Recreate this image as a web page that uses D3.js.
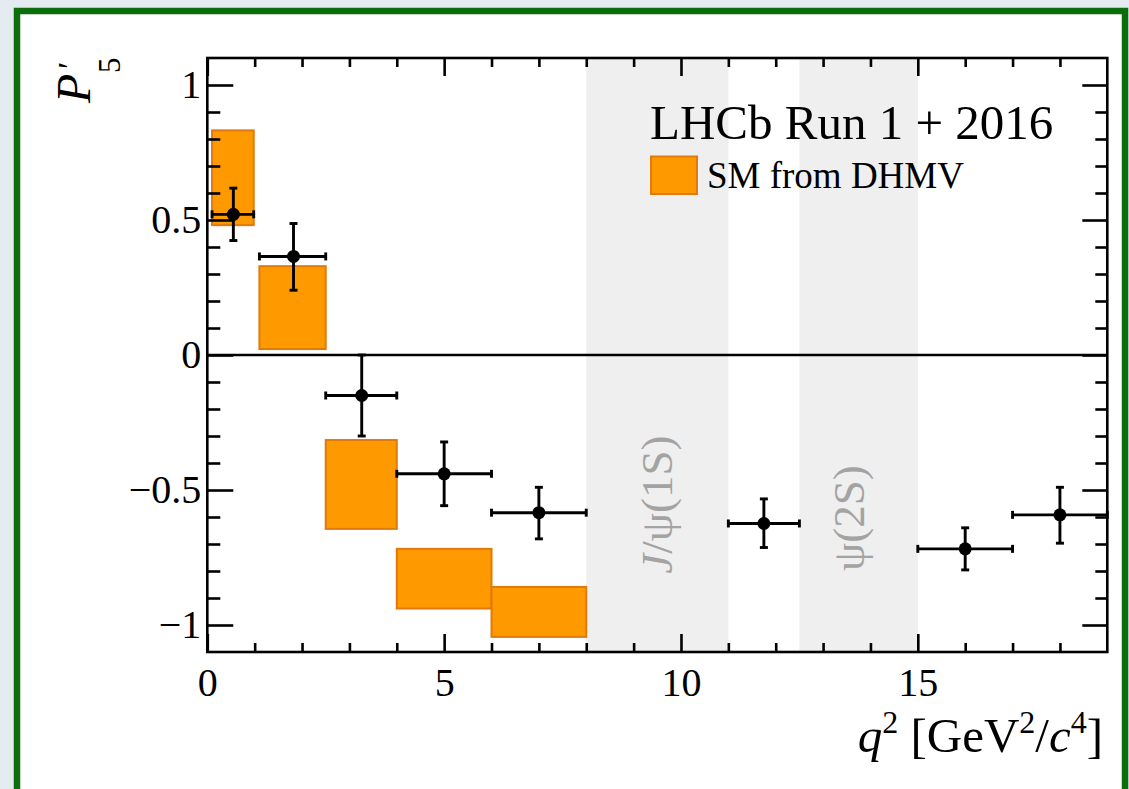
<!DOCTYPE html>
<html>
<head>
<meta charset="utf-8">
<script src="https://cdn.jsdelivr.net/npm/d3@7"></script>
<style>
  html, body { margin: 0; padding: 0; background: #e4ebf1; }
  svg { display: block; }
  text { font-family: "Liberation Serif", "Times New Roman", serif; }
</style>
</head>
<body>
<svg id="chart" width="1129" height="789"></svg>
<script>
// q^2 bins of the measurement [GeV^2/c^4]
const binLo  = [0.10, 1.10, 2.50, 4.00, 6.00, 11.00, 15.00, 17.00];
const binHi  = [0.98, 2.50, 4.00, 6.00, 8.00, 12.50, 17.00, 19.00];
const binCtr = [0.55, 1.82, 3.26, 5.00, 7.00, 11.75, 16.00, 18.00];
// measured P'5 with total uncertainties
const p5Val  = [0.521, 0.365, -0.150, -0.440, -0.584, -0.624, -0.718, -0.592];
const p5Up   = [0.097, 0.122, 0.150, 0.118, 0.094, 0.091, 0.078, 0.102];
const p5Down = [0.097, 0.125, 0.150, 0.118, 0.097, 0.089, 0.078, 0.105];

// Standard Model prediction (DHMV) bands
const smLo  = [0.10, 1.10, 2.50, 4.00, 6.00];
const smHi  = [0.98, 2.50, 4.00, 6.00, 8.00];
const smMin = [0.481, 0.022, -0.644, -0.939, -1.044];
const smMax = [0.832, 0.329, -0.315, -0.718, -0.859];

// charmonium veto regions
const vetoLo   = [8.0, 12.5];
const vetoHi   = [11.0, 15.0];
const vetoTextX = [9.80, 13.86];
const vetoTextY = [-0.81, -0.80];

// axes
const xDomain = [0, 19];
const yDomain = [-1.1, 1.1];
const xMajor = [0, 5, 10, 15];
const xMinor = d3.range(1, 19).filter(v => v % 5 !== 0);
const yMajor = [-1, -0.5, 0, 0.5, 1];
const yMinor = d3.range(-10, 11).map(v => v / 10).filter(v => Math.abs(v * 2 - Math.round(v * 2)) > 1e-6);

const svg = d3.select("#chart");
const W = 1129, H = 789;

// page framing
svg.append("rect").attr("x", 0).attr("y", 0).attr("width", W).attr("height", H).attr("fill", "#e4ebf1");
svg.append("rect").attr("x", 17).attr("y", 11).attr("width", 1108).attr("height", 820)
  .attr("fill", "#ffffff").attr("stroke", "#0b6e0b").attr("stroke-width", 6.5);

const L = 207.3, R = 1107.3, T = 58, B = 652;
const x = d3.scaleLinear().domain(xDomain).range([L, R]);
const y = d3.scaleLinear().domain(yDomain).range([B, T]);

const plot = svg.append("g");

// veto bands
plot.selectAll("rect.veto").data(vetoLo).join("rect")
  .attr("class", "veto")
  .attr("x", (d, i) => x(vetoLo[i]))
  .attr("y", T)
  .attr("width", (d, i) => x(vetoHi[i]) - x(vetoLo[i]))
  .attr("height", B - T)
  .attr("fill", "#efefef");

// veto labels
const vt = plot.selectAll("text.veto").data(vetoLo).join("text")
  .attr("class", "veto")
  .attr("transform", (d, i) => `translate(${x(vetoTextX[i])},${y(vetoTextY[i])}) rotate(-90)`)
  .attr("fill", "#a3a3a3")
  .attr("font-size", 45);
vt.filter((d, i) => i === 0).each(function () {
  const t = d3.select(this);
  t.append("tspan").attr("font-style", "italic").text("J");
  t.append("tspan").text("/ψ(1S)");
});
vt.filter((d, i) => i === 1).text("ψ(2S)");

// SM prediction boxes
plot.selectAll("rect.sm").data(smLo).join("rect")
  .attr("class", "sm")
  .attr("x", (d, i) => x(smLo[i]))
  .attr("y", (d, i) => y(smMax[i]))
  .attr("width", (d, i) => x(smHi[i]) - x(smLo[i]))
  .attr("height", (d, i) => y(smMin[i]) - y(smMax[i]))
  .attr("fill", "#ff9900")
  .attr("stroke", "#e07a0c")
  .attr("stroke-width", 2);

// zero line
plot.append("line")
  .attr("x1", x(xDomain[0])).attr("x2", x(xDomain[1]))
  .attr("y1", y(0)).attr("y2", y(0))
  .attr("stroke", "#000").attr("stroke-width", 2.6);

// axes with inward ticks
const fmtY = d => d === 0 ? "0" : d3.format("~g")(d);
function styleAxis(g) {
  g.select(".domain").remove();
  g.selectAll("line").attr("stroke", "#000").attr("stroke-width", 2.6);
  g.selectAll("text").attr("font-family", "Liberation Serif").attr("font-size", 40).attr("fill", "#000");
}
plot.append("g").attr("transform", `translate(0,${B})`)
  .call(d3.axisBottom(x).tickValues(xMajor).tickSize(-18).tickPadding(16).tickFormat(d3.format("d")))
  .call(styleAxis);
plot.append("g").attr("transform", `translate(0,${B})`)
  .call(d3.axisBottom(x).tickValues(xMinor).tickSize(-9).tickFormat(""))
  .call(styleAxis);
plot.append("g").attr("transform", `translate(0,${T})`)
  .call(d3.axisTop(x).tickValues(xMajor).tickSize(-18).tickFormat(""))
  .call(styleAxis);
plot.append("g").attr("transform", `translate(0,${T})`)
  .call(d3.axisTop(x).tickValues(xMinor).tickSize(-9).tickFormat(""))
  .call(styleAxis);
plot.append("g").attr("transform", `translate(${L},0)`)
  .call(d3.axisLeft(y).tickValues(yMajor).tickSize(-26).tickPadding(6).tickFormat(fmtY))
  .call(styleAxis);
plot.append("g").attr("transform", `translate(${L},0)`)
  .call(d3.axisLeft(y).tickValues(yMinor).tickSize(-13).tickFormat(""))
  .call(styleAxis);
plot.append("g").attr("transform", `translate(${R},0)`)
  .call(d3.axisRight(y).tickValues(yMajor).tickSize(-25).tickFormat(""))
  .call(styleAxis);
plot.append("g").attr("transform", `translate(${R},0)`)
  .call(d3.axisRight(y).tickValues(yMinor).tickSize(-12).tickFormat(""))
  .call(styleAxis);

// frame
plot.append("rect").attr("x", L).attr("y", T).attr("width", R - L).attr("height", B - T)
  .attr("fill", "none").attr("stroke", "#000").attr("stroke-width", 2.6);

// data points with error bars
const pts = plot.append("g").attr("stroke", "#000").attr("stroke-width", 2.9);
const cap = 4;
binCtr.forEach((c, i) => {
  const yc = y(p5Val[i]), yt = y(p5Val[i] + p5Up[i]), yb = y(p5Val[i] - p5Down[i]);
  const xl = x(binLo[i]), xr = x(binHi[i]), xc = x(c);
  pts.append("line").attr("x1", xl).attr("x2", xr).attr("y1", yc).attr("y2", yc);
  pts.append("line").attr("x1", xc).attr("x2", xc).attr("y1", yt).attr("y2", yb);
  pts.append("line").attr("x1", xl).attr("x2", xl).attr("y1", yc - cap).attr("y2", yc + cap);
  pts.append("line").attr("x1", xr).attr("x2", xr).attr("y1", yc - cap).attr("y2", yc + cap);
  pts.append("line").attr("x1", xc - cap).attr("x2", xc + cap).attr("y1", yt).attr("y2", yt);
  pts.append("line").attr("x1", xc - cap).attr("x2", xc + cap).attr("y1", yb).attr("y2", yb);
  pts.append("circle").attr("cx", xc).attr("cy", yc).attr("r", 6.5).attr("fill", "#000").attr("stroke", "none");
});

// legend
svg.append("text").attr("x", 650).attr("y", 139).attr("font-size", 49).text("LHCb Run 1 + 2016");
svg.append("rect").attr("x", 651).attr("y", 156.5).attr("width", 46).attr("height", 37.5)
  .attr("fill", "#ff9900").attr("stroke", "#e07a0c").attr("stroke-width", 2);
svg.append("text").attr("x", 707).attr("y", 188.3).attr("font-size", 37).text("SM from DHMV");

// x-axis title
const xt = svg.append("text").attr("x", 1103).attr("y", 752).attr("text-anchor", "end").attr("font-size", 49);
xt.append("tspan").attr("font-style", "italic").text("q");
xt.append("tspan").attr("font-size", 32).attr("dy", -19).text("2");
xt.append("tspan").attr("dy", 19).text(" [GeV");
xt.append("tspan").attr("font-size", 32).attr("dy", -19).text("2");
xt.append("tspan").attr("dy", 19).text("/");
xt.append("tspan").attr("font-style", "italic").text("c");
xt.append("tspan").attr("font-size", 32).attr("dy", -19).text("4");
xt.append("tspan").attr("dy", 19).text("]");

// y-axis title: P'_5
const yt = svg.append("g").attr("transform", "translate(90,103) rotate(-90)");
yt.append("text").attr("x", 0).attr("y", 0).attr("font-size", 48).attr("font-style", "italic").text("P");
yt.append("text").attr("x", 34).attr("y", -9).attr("font-size", 34).text("′");
yt.append("text").attr("x", 30).attr("y", 30).attr("font-size", 31).text("5");
</script>
</body>
</html>
